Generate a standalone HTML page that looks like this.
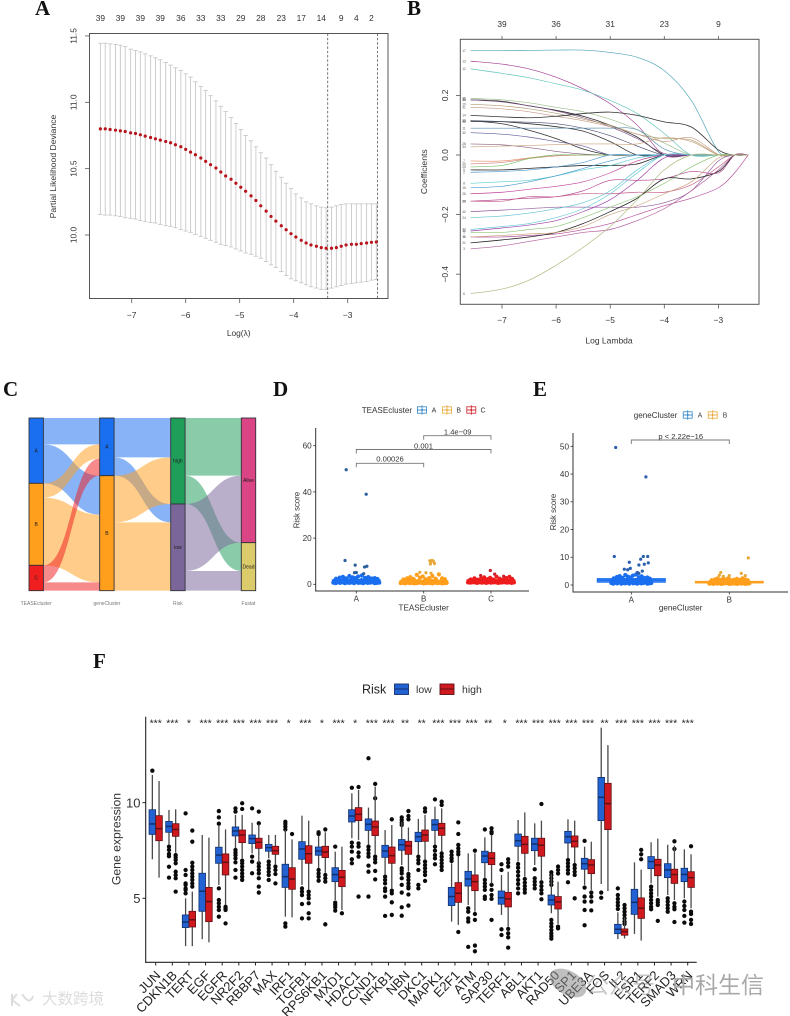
<!DOCTYPE html>
<html lang="en">
<head>
<meta charset="utf-8">
<title>Multi-panel risk model figure</title>
<style>
html,body{margin:0;padding:0;background:#fff;}
body{width:790px;height:1016px;overflow:hidden;}
svg{display:block;font-family:"Liberation Sans","Noto Sans CJK SC",sans-serif;filter:blur(0.3px);}
.letter{font-family:"Liberation Serif",serif;font-weight:bold;font-size:21px;fill:#111;}
</style>
</head>
<body>
<svg id="fig" width="790" height="1016" viewBox="0 0 790 1016" xmlns="http://www.w3.org/2000/svg">
<text class="letter" x="35" y="15">A</text>
<text class="letter" x="407" y="15">B</text>
<text class="letter" x="3" y="396">C</text>
<text class="letter" x="273" y="396">D</text>
<text class="letter" x="533" y="396">E</text>
<text class="letter" x="93" y="668">F</text>
</svg>
<script>
// ---------- Panel A: cross-validation ----------
const cvLogLambda = [-7.58,-7.49,-7.40,-7.30,-7.21,-7.12,-7.02,-6.93,-6.84,-6.75,-6.65,-6.56,-6.47,-6.37,-6.28,-6.19,-6.09,-6.00,-5.91,-5.82,-5.72,-5.63,-5.54,-5.44,-5.35,-5.26,-5.16,-5.07,-4.98,-4.89,-4.79,-4.70,-4.61,-4.51,-4.42,-4.33,-4.23,-4.14,-4.05,-3.96,-3.86,-3.77,-3.68,-3.58,-3.49,-3.40,-3.30,-3.21,-3.12,-3.03,-2.93,-2.84,-2.75,-2.65,-2.56,-2.47];
const cvMean = [10.80,10.80,10.795,10.79,10.785,10.78,10.77,10.765,10.755,10.745,10.735,10.725,10.715,10.705,10.695,10.68,10.665,10.645,10.625,10.605,10.58,10.555,10.53,10.505,10.475,10.445,10.42,10.39,10.36,10.33,10.295,10.26,10.22,10.18,10.14,10.105,10.07,10.04,10.01,9.985,9.96,9.94,9.925,9.915,9.905,9.90,9.90,9.905,9.915,9.925,9.93,9.93,9.935,9.94,9.945,9.947];
const cvUpper = [11.445,11.445,11.44,11.435,11.43,11.42,11.40,11.39,11.38,11.365,11.35,11.335,11.32,11.30,11.28,11.26,11.24,11.215,11.19,11.155,11.12,11.09,11.05,11.01,10.97,10.93,10.885,10.84,10.795,10.75,10.71,10.665,10.62,10.58,10.53,10.48,10.435,10.39,10.35,10.31,10.28,10.25,10.235,10.22,10.21,10.205,10.21,10.22,10.23,10.235,10.235,10.235,10.235,10.235,10.235,10.235];
const cvLower = [10.155,10.15,10.15,10.145,10.14,10.13,10.125,10.12,10.11,10.10,10.095,10.09,10.08,10.07,10.065,10.055,10.04,10.03,10.02,10.005,9.99,9.975,9.96,9.945,9.93,9.92,9.91,9.895,9.88,9.865,9.855,9.84,9.825,9.80,9.775,9.755,9.725,9.695,9.67,9.655,9.64,9.625,9.61,9.60,9.59,9.59,9.60,9.61,9.62,9.63,9.635,9.64,9.645,9.65,9.66,9.665];
const cvTopLabels = [39,39,39,39,36,33,33,29,28,23,17,14,9,4,2];
const cvTopLambda = [-7.58,-7.21,-6.84,-6.47,-6.09,-5.72,-5.35,-4.98,-4.61,-4.23,-3.86,-3.49,-3.12,-2.84,-2.56];
const cvXTicks = [-7,-6,-5,-4,-3];
const cvYTicks = [10,10.5,11,11.5];
const cvVlines = [-3.37,-2.45];

// ---------- Panel B: coefficient paths ----------
const pathLambda = [-7.58,-7,-6.5,-6,-5.5,-5,-4.5,-4,-3.5,-3,-2.7,-2.45];
const pathLabels = ["17","13","12","35","15","36","19","31","14","38","33","32","11","30","28","34","7","20","25","5","2","8","16","26","29","39","40","24","18","37","1","10","21","9","3","6"];
const pathColors = ["#4fa3b8","#a03f95","#62c4bc","#9cbf8a","#2a2a2a","#7d4f85","#b39c72","#c59b85","#333333","#333333","#333333","#4a4a70","#5a8fb0","#6a5c9a","#8a5f80","#c9a27a","#e08a60","#d07f7f","#7cc46a","#2a2a2a","#4f9bd0","#5ccdd0","#4f9bd0","#c0409a","#b03a8a","#c7608a","#8d5a9c","#5cc3cf","#9a3fa8","#62c8d5","#8ec47a","#b44a9a","#2a2a2a","#c9a27a","#b05a9a","#a8b87a"];
const path17 = [.35,.35,.351,.352,.352,.344,.328,.283,.183,.012,0,0];
const path13 = [.315,.305,.289,.261,.222,.172,.10,0,0,0,0,0];
const path12 = [.289,.274,.259,.239,.217,.183,.139,.072,0,0,0,0];
const path35 = [.19,.185,.175,.16,.145,.12,.085,.04,0,0,0,0];
const path15 = [.185,.18,.165,.15,.13,.1,.06,0,0,0,0,0];
const path36 = [.185,.178,.165,.148,.125,.095,.055,.005,0,0,0,0];
const path19 = [.17,.165,.155,.14,.12,.10,.07,.055,.05,0,0,0];
const path31 = [.16,.155,.145,.13,.115,.095,.07,.045,.058,.002,0,0];
const path14 = [.133,.128,.125,.13,.139,.144,.133,.111,.094,.017,0,0];
const path38 = [.115,.105,.083,.055,.02,0,0,0,0,0,0,0];
const path33 = [.115,.112,.105,.095,.08,.045,0,0,0,0,0,0];
const path32 = [.112,.112,.11,.105,.09,.065,.03,0,0,0,0,0];
const path11 = [.09,.09,.09,.09,.09,.09,.085,.02,0,0,0,0];
const path30 = [.075,.07,.06,.045,.03,0,0,0,0,0,0,0];
const path28 = [.037,.034,.025,.012,.003,0,0,0,0,0,0,0];
const path34 = [.027,.03,.032,.035,.037,.037,.037,.058,.045,0,0,0];
const path7 = [-.02,-.02,-.01,0,0,0,0,0,0,0,0,0];
const path20 = [-.03,-.025,-.012,-.003,0,0,0,0,0,0,0,0];
const path25 = [-.04,-.035,-.012,0,0,0,0,0,0,0,0,0];
const path5 = [-.05,-.05,-.045,-.04,-.035,-.035,-.03,0,0,0,0,0];
const path2 = [-.058,-.055,-.05,-.04,-.025,0,0,0,0,0,0,0];
const path8 = [-.095,-.09,-.085,-.07,-.05,-.035,-.01,0,0,0,0,0];
const path16 = [-.11,-.105,-.09,-.07,-.045,-.02,0,0,0,0,0,0];
const path26 = [-.13,-.125,-.115,-.105,-.09,-.06,-.02,0,0,0,0,0];
const path29 = [-.155,-.15,-.145,-.14,-.12,-.085,-.085,-.08,-.055,-.06,0,0];
const path39 = [-.155,-.155,-.14,-.14,-.13,-.13,-.125,-.125,-.10,-.04,0,0];
const path40 = [-.19,-.185,-.18,-.175,-.175,-.175,-.175,-.16,-.12,-.02,0,0];
const path24 = [-.21,-.205,-.195,-.18,-.16,-.12,-.05,0,0,0,0,0];
const path18 = [-.255,-.245,-.235,-.22,-.19,-.15,-.085,-.01,0,0,0,0];
const path37 = [-.25,-.24,-.23,-.21,-.18,-.13,-.06,0,0,0,0,0];
const path1 = [-.26,-.26,-.25,-.24,-.21,-.175,-.14,-.095,-.04,0,0,0];
const path10 = [-.275,-.275,-.27,-.265,-.25,-.23,-.2,-.17,-.145,-.11,-.06,0];
const path21 = [-.295,-.285,-.275,-.26,-.23,-.19,-.145,-.08,-.08,-.055,0,0];
const path9 = [-.275,-.27,-.265,-.26,-.24,-.2,-.17,-.13,-.09,-.01,0,0];
const path3 = [-.315,-.305,-.29,-.275,-.26,-.25,-.22,-.18,-.12,-.05,0,0];
const path6 = [-.465,-.45,-.42,-.37,-.31,-.24,-.15,-.05,0,0,0,0];
const pathSeries = [path17,path13,path12,path35,path15,path36,path19,path31,path14,path38,path33,path32,path11,path30,path28,path34,path7,path20,path25,path5,path2,path8,path16,path26,path29,path39,path40,path24,path18,path37,path1,path10,path21,path9,path3,path6];
const pathTopLabels = [39,36,31,23,9];
const pathXTicks = [-7,-6,-5,-4,-3];
const pathYTicks = [-0.4,-0.2,0,0.2];

// ---------- Panel C: alluvial ----------
const alluvialAxes = ["TEASEcluster","geneCluster","Risk","Fustat"];
const alluvialNodes = [["A","B","C"],["A","B"],["high","low"],["Alive","Dead"]];
const alluvialNodeColors = [["#1a6ff0","#ff9f1c","#f01f1f"],["#1a6ff0","#ff9f1c"],["#1f9e5a","#7b6699"],["#dc4585","#dccb6a"]];
const flowsTeaseGene = [[79,117],[43,203],[51,25]];
const flowsGeneRisk = [[118,55],[140,205]];
const flowsRiskFustat = [[173,85],[201,59]];

// ---------- Panel D ----------
const bandJitter = [-1,-.9,-.8,-.7,-.6,-.5,-.4,-.3,-.2,-.1,0,.1,.2,.3,.4,.5,.6,.7,.8,.9,1,-.95,-.85,-.75,-.62,-.52,-.42,-.32,-.22,-.12,.02,.12,.22,.35,.45,.55,.65,.75,.85,.95,-.88,-.72,-.58,-.44,-.3,-.16,-.04,.08,.24,.38,.52,.66,.8,.92];
const dCategories = ["A","B","C"];
const dRiskA = [.7,.5,.8,.6,.9,.5,.7,.6,.8,.5,.9,.6,.7,.5,.8,.6,.7,.9,.5,.6,.7,1.6,1.4,1.9,1.5,1.8,1.3,1.7,2,1.5,1.9,1.4,1.8,1.6,2,1.5,1.7,1.4,1.8,1.5,2.4,2.9,3.2,2.6,3.6,3,2.7,3.4,3.8,2.8,3.1,2.5,2.7,2.3];
const dRiskB = [.5,.6,.4,.7,.5,.6,.4,.5,.7,.6,.4,.5,.6,.5,.4,.7,.5,.6,.4,.5,.6,1.2,1.5,1.1,1.6,1.3,1.8,1.2,1.5,1.1,1.4,1.7,1.2,1.5,1.3,1.6,1.1,1.4,1.2,1.3,2.1,2.6,3.1,2.3,4.1,2.9,3.4,2.2,2.7,3.6,2.4,4.3,2.6,2.2];
const dRiskC = [.8,.7,.9,.8,.6,.9,.7,.8,.6,.9,.7,.8,.9,.6,.7,.8,.9,.7,.8,.6,.8,1.6,1.3,1.8,1.5,1.2,1.9,1.4,1.7,1.3,1.6,1.9,1.4,1.7,1.5,1.3,1.8,1.4,1.6,1.5,2.1,2.6,2,2.4,3,2.2,2.8,2.1,3.3,2.4,2,2.7,3.2,2.3];
const dOutlierValuesA = [49.6,39,10.3,8.3,7.5,7.8,5,5.1,4.6];
const dOutlierJitterA = [-.44,.43,-.49,-.05,.36,.46,-.08,0,.32];
const dOutlierValuesB = [10.2,9.9,10.3,10,9,8.8,5.2,5,4.8];
const dOutlierJitterB = [.27,.32,.37,.42,.47,.29,-.17,.1,.32];
const dOutlierValuesC = [6,4.4,3.8,3.5];
const dOutlierJitterC = [-.03,.16,-.45,.55];
const dBoxStats = [[.6,1.2,1.9],[.5,.9,1.5],[.9,1.4,1.9]];
const dYTicks = [0,20,40,60];
const dColors = ["#1a6ff0","#ff9f1c","#ee1c1c"];
const dBracketLabels = ["0.00026","0.001","1.4e\u221209"];

// ---------- Panel E ----------
const eCategories = ["A","B"];
const eRiskA = [.7,.5,.8,.6,.9,.5,.7,.6,.8,.5,.9,.6,.7,.5,.8,.6,.7,.9,.5,.6,.7,1.6,1.4,1.9,1.5,1.8,1.3,1.7,2,1.5,1.9,1.4,1.8,1.6,2,1.5,1.7,1.4,1.8,1.5,2.4,2.9,3.2,2.6,3.6,3,2.7,3.4,3.8,2.8,3.1,2.5,2.7,2.3];
const eRiskB = [.5,.6,.4,.7,.5,.6,.4,.5,.7,.6,.4,.5,.6,.5,.4,.7,.5,.6,.4,.5,.6,1.1,1.3,1,1.4,1.2,1.5,1.1,1.3,1,1.2,1.4,1.1,1.3,1.2,1.4,1,1.2,1.1,1.2,1.7,2,2.4,1.8,2.3,2,2.5,1.7,1.9,2.2,1.8,2.4,2,1.7];
const eOutlierValuesA = [49.6,39,10.3,10.3,10.3,9.3,8.2,8,7.5,7.2,5.7,5.5,6,5,4.5,4.2];
const eOutlierJitterA = [-.78,.73,-.85,.6,.82,.47,-.1,.85,.65,.38,-.35,-.18,-.05,.55,.3,.38];
const eOutlierValuesB = [9.8,4.5,3.5,3.4,4.2,3.4,3.1];
const eOutlierJitterB = [.95,-.43,-.5,.0,.6,.8,-.3];
const eBoxStats = [[1,1.7,2.3],[.8,1,1.3]];
const eYTicks = [0,10,20,30,40,50];
const eColors = ["#1a6ff0","#ff9f1c"];

// ---------- Panel F: boxplots ----------
const genes = ["JUN","CDKN1B","TERT","EGF","EGFR","NR2F2","RBBP7","MAX","IRF1","TGFB1","RPS6KB1","MXD1","HDAC1","CCND1","NFKB1","NBN","DKC1","MAPK1","E2F1","ATM","SAP30","TERF1","ABL1","AKT1","RAD50","SP1","UBE3A","FOS","IL2","ESR1","TERF2","SMAD3","WRN"];
const significance = ["***","***","*","***","***","***","***","***","*","***","*","***","*","***","***","**","**","***","***","***","**","*","***","***","***","***","***","**","***","***","***","***","***"];
const fYTicks = [5,10];
// each row: lower whisker, q1, median, q3, upper whisker
const lowBoxes = [[7.04,8.34,8.89,9.63,11.45],[7.79,8.45,8.76,9.02,9.62],[2.5,3.47,3.76,4.13,5],[2.86,4.32,5.37,6.31,8.31],[5.7,6.83,7.26,7.67,8.83],[7.61,8.26,8.52,8.73,9.36],[7.35,7.86,8.12,8.31,8.95],[7.09,7.46,7.65,7.82,8.31],[4.04,5.57,6.13,6.78,8.57],[5.7,7.04,7.58,7.96,9.32],[6.57,7.25,7.47,7.68,8.27],[4.91,5.87,6.24,6.6,7.44],[8.14,8.99,9.3,9.63,10.49],[7.79,8.55,8.87,9.15,9.74],[6.22,7.14,7.47,7.77,8.57],[6.74,7.51,7.8,8.07,9],[7.26,7.96,8.22,8.45,9.15],[7.79,8.55,8.85,9.11,9.79],[3.78,4.62,5.09,5.57,6.83],[4.65,5.64,6.01,6.41,7.35],[6.05,6.86,7.21,7.46,8.19],[4.13,4.69,5.03,5.38,6.22],[6.92,7.72,8.01,8.36,9.09],[6.74,7.49,7.84,8.14,8.92],[4.22,4.65,4.91,5.17,6.27],[7.09,7.89,8.22,8.5,9.13],[5.7,6.52,6.81,7.09,7.7],[5.75,9.06,10.28,11.32,13.92],[2.87,3.15,3.38,3.64,4.27],[3.14,4.16,4.79,5.47,6.88],[5.78,6.55,6.92,7.18,7.93],[5.17,6.08,6.48,6.81,7.8],[5,5.87,6.25,6.57,7.56]];
const highBoxes = [[6.08,8.01,8.64,9.32,11.13],[7.39,8.24,8.6,8.9,9.65],[2.5,3.5,3.88,4.32,5.35],[2.7,3.78,4.83,5.57,8.17],[4.65,6.22,6.88,7.32,8.6],[7.09,7.91,8.31,8.57,9.36],[6.83,7.61,7.93,8.14,8.87],[6.74,7.3,7.49,7.72,8.31],[4,5.47,6.01,6.6,8.08],[5.44,6.83,7.33,7.75,9.06],[6.34,7.13,7.42,7.72,8.45],[4.39,5.61,6.1,6.46,7.7],[8.05,9.06,9.39,9.74,10.66],[7.26,8.28,8.73,9.04,10.84],[5.52,6.83,7.23,7.68,8.83],[6.4,7.3,7.74,7.98,8.7],[7,7.98,8.31,8.57,9.36],[7.44,8.29,8.66,8.92,9.7],[3.61,4.79,5.26,5.82,7.18],[4.3,5.4,5.87,6.22,7.35],[5.78,6.76,7.09,7.39,8.31],[3.52,4.55,4.97,5.31,6.39],[6.13,7.35,7.82,8.24,9.49],[5.96,7.2,7.77,8.14,9.06],[3.66,4.44,4.81,5.09,5.87],[6.83,7.68,7.98,8.26,9.06],[5.44,6.29,6.74,7.02,7.96],[5.38,8.59,9.95,11.01,13.01],[2.9,3.07,3.26,3.4,4],[2.79,3.95,4.48,5.02,6.5],[5.09,6.18,6.74,7.04,8.12],[4.91,5.78,6.24,6.52,7.75],[4.48,5.57,6.08,6.39,7.3]];
const lowOutliers = [[11.67],[7.7,7.53,7.32,7.2,6.65,6.08],[9.44,6.48,6.22,5.78,5.7,5.52,5.44,5.26],[],[9.56,9.23,8.9,5.52,4.91,4.74,4.56,4.39,4.04],[9.7,9.53,7.53,7.39,7.26,7.09,6.88,6.48,6.08],[9.7,7.18,6.92,6.31],[6.92,6.74,6.57,6.39,6.22,5.96],[9,8.89,8.75,8.6,3.69,3.52],[5.52,5.35,5.17,4.7,3.95],[8.45,8.36,6.48,6.3,6.13,5.92],[7.7,4.77,4.65,4.53,4.36],[10.78,7.91,7.7,7.44,7.04,6.83],[12.32,7.7,7.53,7.35,7.18,6.71,6.39,5.09],[6.13,5.96,5.78,5.52,5.38,5.09,4.08],[9.23,9.09,8.95,8.83,6.57,6.45,6.3,6.05,5.7,5.3,4.53,4.09],[7.18,7,6.83,6.48,5.7,5.52],[10.17,7.7,7.49,7.26,7.09,6.78],[7.44,7.26,7.09,6.95],[4.48,4.3,3.95,3.78,2.46],[8.6,5.96,5.78,5.61,5.44,5.09,4.97],[6.78,6.48,3.38,3.08],[6.79,6.6,6.39,6.18,5.96,5.75,5.52,5.26],[6.52,6.05,5.87,5.7,5.52],[6.36,6.22,6.05,5.87,5.7,3.87,3.69,3.52,3.34,3.17,3.03,2.89],[7,6.83,6.66,6.48,6.3,5.84],[8,5.56,5.09,4.83,4.39,3.59],[5.3,5.03],[5.52,5.17,4.97,4.79,4.62,4.44],[],[5.61,5.44,5.26,5.09,4.91,4.74,4.56,4.43],[5,4.83,4.65,4.48,4.3],[4.83,4.6,4.39,4.08,3.73]];
const highOutliers = [[],[7.26,7.14,7,6.83,6.39,6.22,6.05,5.35],[8.54,7.96,6.86,6.66,6.48,6.3,6.13,5.96,5.78,5.61],[],[4.56,4.48,4.39,3.69],[9.97,9.67,6.97,6.83,6.66,6.48,6.3,6.13,5.96],[9.53,8.92,6.83,6.66,6.48,6.3,6.05,5.61,5.3],[6.66,6.48,6.27,5.78],[8.36],[5.35,5.17,5,4.74,4.22,3.95],[8.6,6.22,6.05,5.87,3.64],[4.22],[10.82,7.87,7.7,7.39,7.18,5.09],[10.98,10.23,7.18,7.04,6.88,6.43,5.99],[9.13,5.4,5.26,4.79,4.13],[9.56,9.3,9.13,6.27,6.13,5.96,5.78,5.61,5.52,5.2,4.62],[9.7,9.53,6.92,6.74,6.57,6.39,6.22,5.91],[10.05,9.88,7.35,7.18,7,6.83,6.66,6.48],[8.97,8.36,7.79,7.61,7.44,7.3,3.24],[7.49,4.18,3.87,2.53,2.23],[8.66,8.48,8.4,5.7,5.44,5.17,4.97,3.87],[7.04,6.86,6.66,3.4,3.17,2.96,2.42],[6.01,5.82,5.64,5.47,5.3],[9.93,5.84,5.64,5.44,5.26,4.95],[6.66,6.48,6.3,3.52,3.43],[6.74,6.57,6.39,6.22,5],[5.3,5.09,4.83,4.37],[],[4.65,4.48,4.3,4.13,3.95,3.78,3.66],[7.53,7.3,7.04],[4.91,4.79,4.65,3.82],[7.98,7.58,4.74,4.56,4.43,3.76],[7.72,4.3,4.18,3.87,3.66]];

// ---------- helpers ----------
const NS = "http://www.w3.org/2000/svg";
const fig = document.getElementById("fig");
function add(parent, tag, attrs, name, text) {
  const el = document.createElementNS(NS, tag);
  for (const k in attrs) el.setAttribute(k, attrs[k]);
  
  
  if (text !== undefined) el.textContent = text;
  parent.appendChild(el);
  return el;
}
function group(name) { return add(fig, "g", {}, name); }
function line(p, x1, y1, x2, y2, stroke, w, name, extra) {
  return add(p, "line", Object.assign({x1, y1, x2, y2, stroke, "stroke-width": w}, extra || {}), name);
}
function label(p, x, y, s, size, fill, anchor, name, rot) {
  const a = {x, y, "font-size": size, fill, "text-anchor": anchor || "middle"};
  if (rot) a.transform = "rotate(" + rot + " " + x + " " + y + ")";
  return add(p, "text", a, name, s);
}
function smoothPath(pts) {
  let d = "M" + pts[0][0].toFixed(2) + " " + pts[0][1].toFixed(2);
  for (let i = 0; i < pts.length - 1; i++) {
    const p0 = pts[Math.max(0, i - 1)], p1 = pts[i], p2 = pts[i + 1], p3 = pts[Math.min(pts.length - 1, i + 2)];
    const c1 = [p1[0] + (p2[0] - p0[0]) / 6, p1[1] + (p2[1] - p0[1]) / 6];
    const c2 = [p2[0] - (p3[0] - p1[0]) / 6, p2[1] - (p3[1] - p1[1]) / 6];
    d += "C" + c1[0].toFixed(2) + " " + c1[1].toFixed(2) + " " + c2[0].toFixed(2) + " " + c2[1].toFixed(2) + " " + p2[0].toFixed(2) + " " + p2[1].toFixed(2);
  }
  return d;
}
const minus = s => String(s).replace("-", "\u2212");

// ---------- draw Panel A ----------
(function () {
  const g = group("cv-deviance-panel");
  const ax = v => 131.7 + 54 * (v + 7);
  const ay = v => 235 - (v - 10) * 132.7;
  const ink = "#555";
  add(g, "rect", {x: 89.5, y: 33.5, width: 298.5, height: 265, fill: "none", stroke: ink, "stroke-width": 1}, "plot-frame");
  cvLogLambda.forEach((l, i) => {
    const x = ax(l);
    line(g, x, ay(cvUpper[i]), x, ay(cvLower[i]), "#c8c8c8", 0.9, "error-bar");
    line(g, x - 2.2, ay(cvUpper[i]), x + 2.2, ay(cvUpper[i]), "#c8c8c8", 0.9, "error-cap-upper");
    line(g, x - 2.2, ay(cvLower[i]), x + 2.2, ay(cvLower[i]), "#c8c8c8", 0.9, "error-cap-lower");
  });
  cvVlines.forEach(v => line(g, ax(v), 33.5, ax(v), 298.5, "#555", 0.8, "lambda-reference-line", {"stroke-dasharray": "2.5 1.8"}));
  cvLogLambda.forEach((l, i) => {
    add(g, "circle", {cx: ax(l), cy: ay(cvMean[i]), r: 1.6, fill: "#b8141c"}, "mean-deviance-point");
  });
  cvXTicks.forEach(t => {
    line(g, ax(t), 298.5, ax(t), 303, ink, 0.8, "x-tick");
    label(g, ax(t), 318, minus(t), 8.4, "#333", "middle", "x-tick-label");
  });
  cvYTicks.forEach(t => {
    line(g, 85, ay(t), 89.5, ay(t), ink, 0.8, "y-tick");
    label(g, 76.5, ay(t), t.toFixed(1), 8.4, "#333", "middle", "y-tick-label", -90);
  });
  cvTopLabels.forEach((t, i) => label(g, ax(cvTopLambda[i]), 21, t, 8.4, "#333", "middle", "top-count-label"));
  label(g, 238.7, 336, "Log(\u03bb)", 8.4, "#333", "middle", "x-axis-title");
  label(g, 56, 166.5, "Partial Likelihood Deviance", 8.6, "#333", "middle", "y-axis-title", -90);
})();

// ---------- draw Panel B ----------
(function () {
  const g = group("coefficient-path-panel");
  const bx = v => 502 + 54.1 * (v + 7);
  const by = v => 155 - v * 298;
  const ink = "#555";
  pathSeries.forEach((s, i) => {
    const pts = s.map((v, j) => [bx(pathLambda[j]), by(v)]);
    add(g, "path", {d: smoothPath(pts), fill: "none", stroke: pathColors[i], "stroke-width": pathColors[i] === "#2a2a2a" || pathColors[i] === "#333333" ? 0.8 : 0.65}, "coefficient-line-" + pathLabels[i]);
    label(g, 464, by(s[0]) + 1.2, pathLabels[i], 3.2, "#555", "middle", "coefficient-label");
  });
  add(g, "rect", {x: 460.3, y: 39.3, width: 298.7, height: 265, fill: "none", stroke: ink, "stroke-width": 1}, "plot-frame");
  pathXTicks.forEach((t, i) => {
    line(g, bx(t), 304.3, bx(t), 308.5, ink, 0.8, "x-tick");
    label(g, bx(t), 323, minus(t), 8.4, "#333", "middle", "x-tick-label");
    line(g, bx(t), 36, bx(t), 39.3, ink, 0.8, "top-tick");
    label(g, bx(t), 27, pathTopLabels[i], 8.4, "#333", "middle", "top-count-label");
  });
  pathYTicks.forEach(t => {
    line(g, 456, by(t), 460.3, by(t), ink, 0.8, "y-tick");
    label(g, 448, by(t), minus(t.toFixed(1)), 8.4, "#333", "middle", "y-tick-label", -90);
  });
  label(g, 609, 343.5, "Log Lambda", 8.5, "#333", "middle", "x-axis-title");
  label(g, 427, 171.7, "Coefficients", 8.6, "#333", "middle", "y-axis-title", -90);
})();

// ---------- draw Panel C ----------
(function () {
  const g = group("alluvial-panel");
  const colX = [29, 99.7, 170.7, 241.3];
  const nodeW = 14.4;
  const top = 418, total = 518, k = 172.67 / total;
  const matrices = [flowsTeaseGene, flowsGeneRisk, flowsRiskFustat];
  const nodeSizes = [
    flowsTeaseGene.map(r => r.reduce((a, b) => a + b, 0)),
    flowsGeneRisk.map(r => r.reduce((a, b) => a + b, 0)),
    flowsRiskFustat.map(r => r.reduce((a, b) => a + b, 0)),
    flowsRiskFustat[0].map((_, j) => flowsRiskFustat[0][j] + flowsRiskFustat[1][j])
  ];
  matrices.forEach((m, c) => {
    let leftCursor = 0;
    const rightOffsets = [];
    let acc = 0;
    nodeSizes[c + 1].forEach(sz => { rightOffsets.push(acc); acc += sz; });
    m.forEach((row, i) => {
      row.forEach((v, j) => {
        const x0 = colX[c] + nodeW, x1 = colX[c + 1], xm = (x0 + x1) / 2;
        const a0 = top + leftCursor * k, a1 = a0 + v * k;
        const b0 = top + rightOffsets[j] * k, b1 = b0 + v * k;
        const d = "M" + x0 + " " + a0 + "C" + xm + " " + a0 + " " + xm + " " + b0 + " " + x1 + " " + b0 + "L" + x1 + " " + b1 + "C" + xm + " " + b1 + " " + xm + " " + a1 + " " + x0 + " " + a1 + "Z";
        add(g, "path", {d, fill: alluvialNodeColors[c][i], "fill-opacity": 0.52}, "flow-" + alluvialAxes[c] + "-" + alluvialNodes[c][i] + "-to-" + alluvialNodes[c + 1][j]);
        leftCursor += v;
        rightOffsets[j] += v;
      });
    });
  });
  nodeSizes.forEach((sz2, c) => {
    let acc = 0;
    sz2.forEach((sz, i) => {
      const y = top + acc * k, h = sz * k;
      add(g, "rect", {x: colX[c], y, width: nodeW, height: h, fill: alluvialNodeColors[c][i], stroke: "#33333a", "stroke-width": 0.9}, "stratum-" + alluvialNodes[c][i]);
      label(g, colX[c] + nodeW / 2, y + h / 2 + 1.7, alluvialNodes[c][i], 5, "#1a1a1a", "middle", "stratum-label");
      acc += sz;
    });
    label(g, colX[c] + nodeW / 2, 605, alluvialAxes[c], 5, "#777", "middle", "axis-label");
  });
})();

// ---------- box/strip panels D and E ----------
function stripPanel(cfg) {
  const g = group(cfg.name);
  const py = v => cfg.y0 - v * cfg.k;
  cfg.rows.forEach((row, i) => {
    const cx = cfg.cx[i], col = cfg.colors[i];
    const st = cfg.box[i];
    add(g, "rect", {x: cx - cfg.boxHalf, y: py(st[2]), width: cfg.boxHalf * 2, height: Math.max(0.5, py(st[0]) - py(st[2])), fill: col, "fill-opacity": 0.35, stroke: col, "stroke-width": 1}, "box-" + cfg.cats[i]);
    line(g, cx - cfg.boxHalf, py(st[1]), cx + cfg.boxHalf, py(st[1]), col, 2.4, "median-" + cfg.cats[i]);
    row.forEach((v, j) => add(g, "circle", {cx: cx + bandJitter[j] * cfg.jitHalf, cy: py(v), r: 2.1, fill: col}, "risk-point"));
    cfg.outV[i].forEach((v, j) => add(g, "circle", {cx: cx + cfg.outJ[i][j] * cfg.jitHalf, cy: py(v), r: 1.6, fill: cfg.outColors[i]}, "risk-outlier"));
  });
  line(g, cfg.axX, cfg.top, cfg.axX, cfg.bottom, "#333", 1, "y-axis-line");
  line(g, cfg.axX - 0.5, cfg.bottom, cfg.right, cfg.bottom, "#333", 1, "x-axis-line");
  cfg.yTicks.forEach(t => {
    line(g, cfg.axX - 2.5, py(t), cfg.axX, py(t), "#333", 0.8, "y-tick");
    label(g, cfg.axX - 4, py(t) + 2.9, t, 8.2, "#333", "end", "y-tick-label");
  });
  cfg.cats.forEach((c, i) => {
    line(g, cfg.cx[i], cfg.bottom, cfg.cx[i], cfg.bottom + 2.5, "#333", 0.8, "x-tick");
    label(g, cfg.cx[i], cfg.bottom + 10.5, c, 8, "#333", "middle", "x-tick-label");
  });
  return g;
}
function bracket(g, x0, x1, y, txt, tx, ty) {
  add(g, "path", {d: "M" + x0 + " " + (y + 4) + "V" + y + "H" + x1 + "V" + (y + 4), fill: "none", stroke: "#777", "stroke-width": 0.9}, "comparison-bracket");
  label(g, tx, ty, txt, 7.6, "#333", "middle", "p-value-label");
}
function legendKey(g, x, y, col, name) {
  add(g, "rect", {x: x - 4.5, y: y - 3.2, width: 9, height: 6.4, fill: "#fff", stroke: col, "stroke-width": 0.8}, name);
  line(g, x, y - 4.8, x, y + 4.8, col, 0.8, name + "-whisker");
  line(g, x - 4.5, y, x + 4.5, y, col, 0.9, name + "-median");
  add(g, "circle", {cx: x, cy: y, r: 1, fill: col}, name + "-dot");
}

// ---------- draw Panel D ----------
(function () {
  const g = stripPanel({
    name: "risk-by-tease-cluster-panel", cats: dCategories, cx: [356.3, 423.7, 491], y0: 584.3, k: 2.31,
    rows: [dRiskA, dRiskB, dRiskC], box: dBoxStats, colors: dColors, outColors: ["#2a5f9e", "#e8a838", "#c8202a"],
    outV: [dOutlierValuesA, dOutlierValuesB, dOutlierValuesC], outJ: [dOutlierJitterA, dOutlierJitterB, dOutlierJitterC],
    boxHalf: 24, jitHalf: 23, axX: 315.7, top: 428, bottom: 591, right: 529, yTicks: dYTicks
  });
  label(g, 423.7, 610.5, "TEASEcluster", 8.1, "#333", "middle", "x-axis-title");
  label(g, 299.5, 510, "Risk score", 7.8, "#333", "middle", "y-axis-title", -90);
  bracket(g, 356.3, 423.7, 463.3, dBracketLabels[0], 390, 461.7);
  bracket(g, 356.3, 491, 449.5, dBracketLabels[1], 423.5, 448.3);
  bracket(g, 423.7, 491, 435.7, dBracketLabels[2], 457.7, 434.3);
  label(g, 361.7, 412.8, "TEASEcluster", 8.1, "#333", "start", "legend-title");
  dCategories.forEach((c, i) => {
    legendKey(g, [422, 447, 471.3][i], 410, ["#2f85c8", "#e8a838", "#d0202a"][i], "legend-key-" + c);
    label(g, [434, 458.7, 483][i], 412.6, c, 7, "#333", "middle", "legend-entry-" + c);
  });
})();

// ---------- draw Panel E ----------
(function () {
  const g = stripPanel({
    name: "risk-by-gene-cluster-panel", cats: eCategories, cx: [631.3, 729.3], y0: 585, k: 2.773,
    rows: [eRiskA, eRiskB], box: eBoxStats, colors: eColors, outColors: ["#2a5fb0", "#e8a838"],
    outV: [eOutlierValuesA, eOutlierValuesB], outJ: [eOutlierJitterA, eOutlierJitterB],
    boxHalf: 34, jitHalf: 20, axX: 573, top: 433, bottom: 592, right: 788, yTicks: eYTicks
  });
  label(g, 680.7, 610.5, "geneCluster", 8.1, "#333", "middle", "x-axis-title");
  label(g, 556, 512, "Risk score", 7.8, "#333", "middle", "y-axis-title", -90);
  bracket(g, 631.3, 729.3, 440, "p < 2.22e\u221216", 680.7, 438.8);
  label(g, 633.7, 417.8, "geneCluster", 8.1, "#333", "start", "legend-title");
  eCategories.forEach((c, i) => {
    legendKey(g, [687.7, 712.7][i], 415, ["#2f85c8", "#e8a838"][i], "legend-key-" + c);
    label(g, [700, 725][i], 417.6, c, 7, "#444", "middle", "legend-entry-" + c);
  });
})();

// ---------- draw Panel F ----------
(function () {
  const g = group("gene-expression-boxplot-panel");
  const fx = i => 155.7 + i * 16.625;
  const fy = v => 898.3 - (v - 5) * 19.13;
  const boxW = 6.6, off = 3.35;
  function drawBox(stats, outs, cx, fill, edge, name) {
    outs.forEach(v => add(g, "circle", {cx, cy: fy(v), r: 2.15, fill: "#0a0a0a"}, name + "-outlier"));
    line(g, cx, fy(stats[0]), cx, fy(stats[4]), "#4a4a4a", 1.3, name + "-whisker");
    add(g, "rect", {x: cx - boxW / 2, y: fy(stats[3]), width: boxW, height: fy(stats[1]) - fy(stats[3]), fill, stroke: edge, "stroke-width": 0.8}, name + "-box");
    line(g, cx - boxW / 2, fy(stats[2]), cx + boxW / 2, fy(stats[2]), edge, 1.5, name + "-median");
  }
  genes.forEach((gene, i) => {
    drawBox(lowBoxes[i], lowOutliers[i], fx(i) - off, "#2262d2", "#12316c", "box-low-" + gene);
    drawBox(highBoxes[i], highOutliers[i], fx(i) + off, "#d0191e", "#5e1014", "box-high-" + gene);
    label(g, fx(i), 726.5, significance[i], 10.5, "#222", "middle", "significance-" + gene);
    line(g, fx(i), 962.3, fx(i), 965.5, "#222", 1, "x-tick-" + gene);
    add(g, "text", {transform: "translate(" + (fx(i) + 5.5) + " 976) rotate(-46)", "font-size": 12.9, fill: "#222", "text-anchor": "end"}, "gene-label-" + gene, gene);
  });
  line(g, 145.7, 716.7, 145.7, 962.8, "#222", 1.1, "y-axis-line");
  line(g, 145.2, 962.3, 696.7, 962.3, "#222", 1.1, "x-axis-line");
  fYTicks.forEach(t => {
    line(g, 142.5, fy(t), 145.7, fy(t), "#222", 1, "y-tick");
    label(g, 140.5, fy(t) + 4.6, t, 13, "#333", "end", "y-tick-label");
  });
  label(g, 120.5, 839, "Gene expression", 12.2, "#333", "middle", "y-axis-title", -90);
  label(g, 362, 693.5, "Risk", 12.5, "#222", "start", "legend-title");
  add(g, "rect", {x: 394.5, y: 684, width: 14, height: 10.5, fill: "#2262d2", stroke: "#12316c", "stroke-width": 0.9}, "legend-key-low");
  line(g, 394.5, 689, 408.5, 689, "#12316c", 1, "legend-key-low-median");
  label(g, 416, 693, "low", 10.5, "#333", "start", "legend-entry-low");
  add(g, "rect", {x: 440, y: 684, width: 14, height: 10.5, fill: "#d0191e", stroke: "#5e1014", "stroke-width": 0.9}, "legend-key-high");
  line(g, 440, 689, 454, 689, "#5e1014", 1, "legend-key-high-median");
  label(g, 462, 693, "high", 10.5, "#333", "start", "legend-entry-high");
})();

// ---------- watermarks ----------
(function () {
  const g = group("watermarks");
  add(g, "ellipse", {cx: 568, cy: 983, rx: 20, ry: 12, fill: "#8a8a8a", "fill-opacity": 0.55, transform: "rotate(30 568 983)"}, "watermark-logo");
  add(g, "text", {x: 586, y: 993, "font-size": 23, fill: "#9a9a9a", "fill-opacity": 0.55, style: "font-family:'Liberation Sans','Noto Sans CJK SC',sans-serif"}, "watermark-account", "公众号");
  add(g, "text", {x: 672, y: 993, "font-size": 23, fill: "#a8a8a8", style: "font-family:'Liberation Sans','Noto Sans CJK SC',sans-serif"}, "watermark-name", "中科生信");
  add(g, "text", {x: 42, y: 1004, "font-size": 15.5, fill: "#dcdcdc", style: "font-family:'Liberation Sans','Noto Sans CJK SC',sans-serif"}, "watermark-left", "大数跨境");
  add(g, "path", {d: "M12 994v12M17 994l-5 6 8 6M22 994q8 12 11 2", fill: "none", stroke: "#dcdcdc", "stroke-width": 2}, "watermark-left-logo");
})();
</script>
</body>
</html>
